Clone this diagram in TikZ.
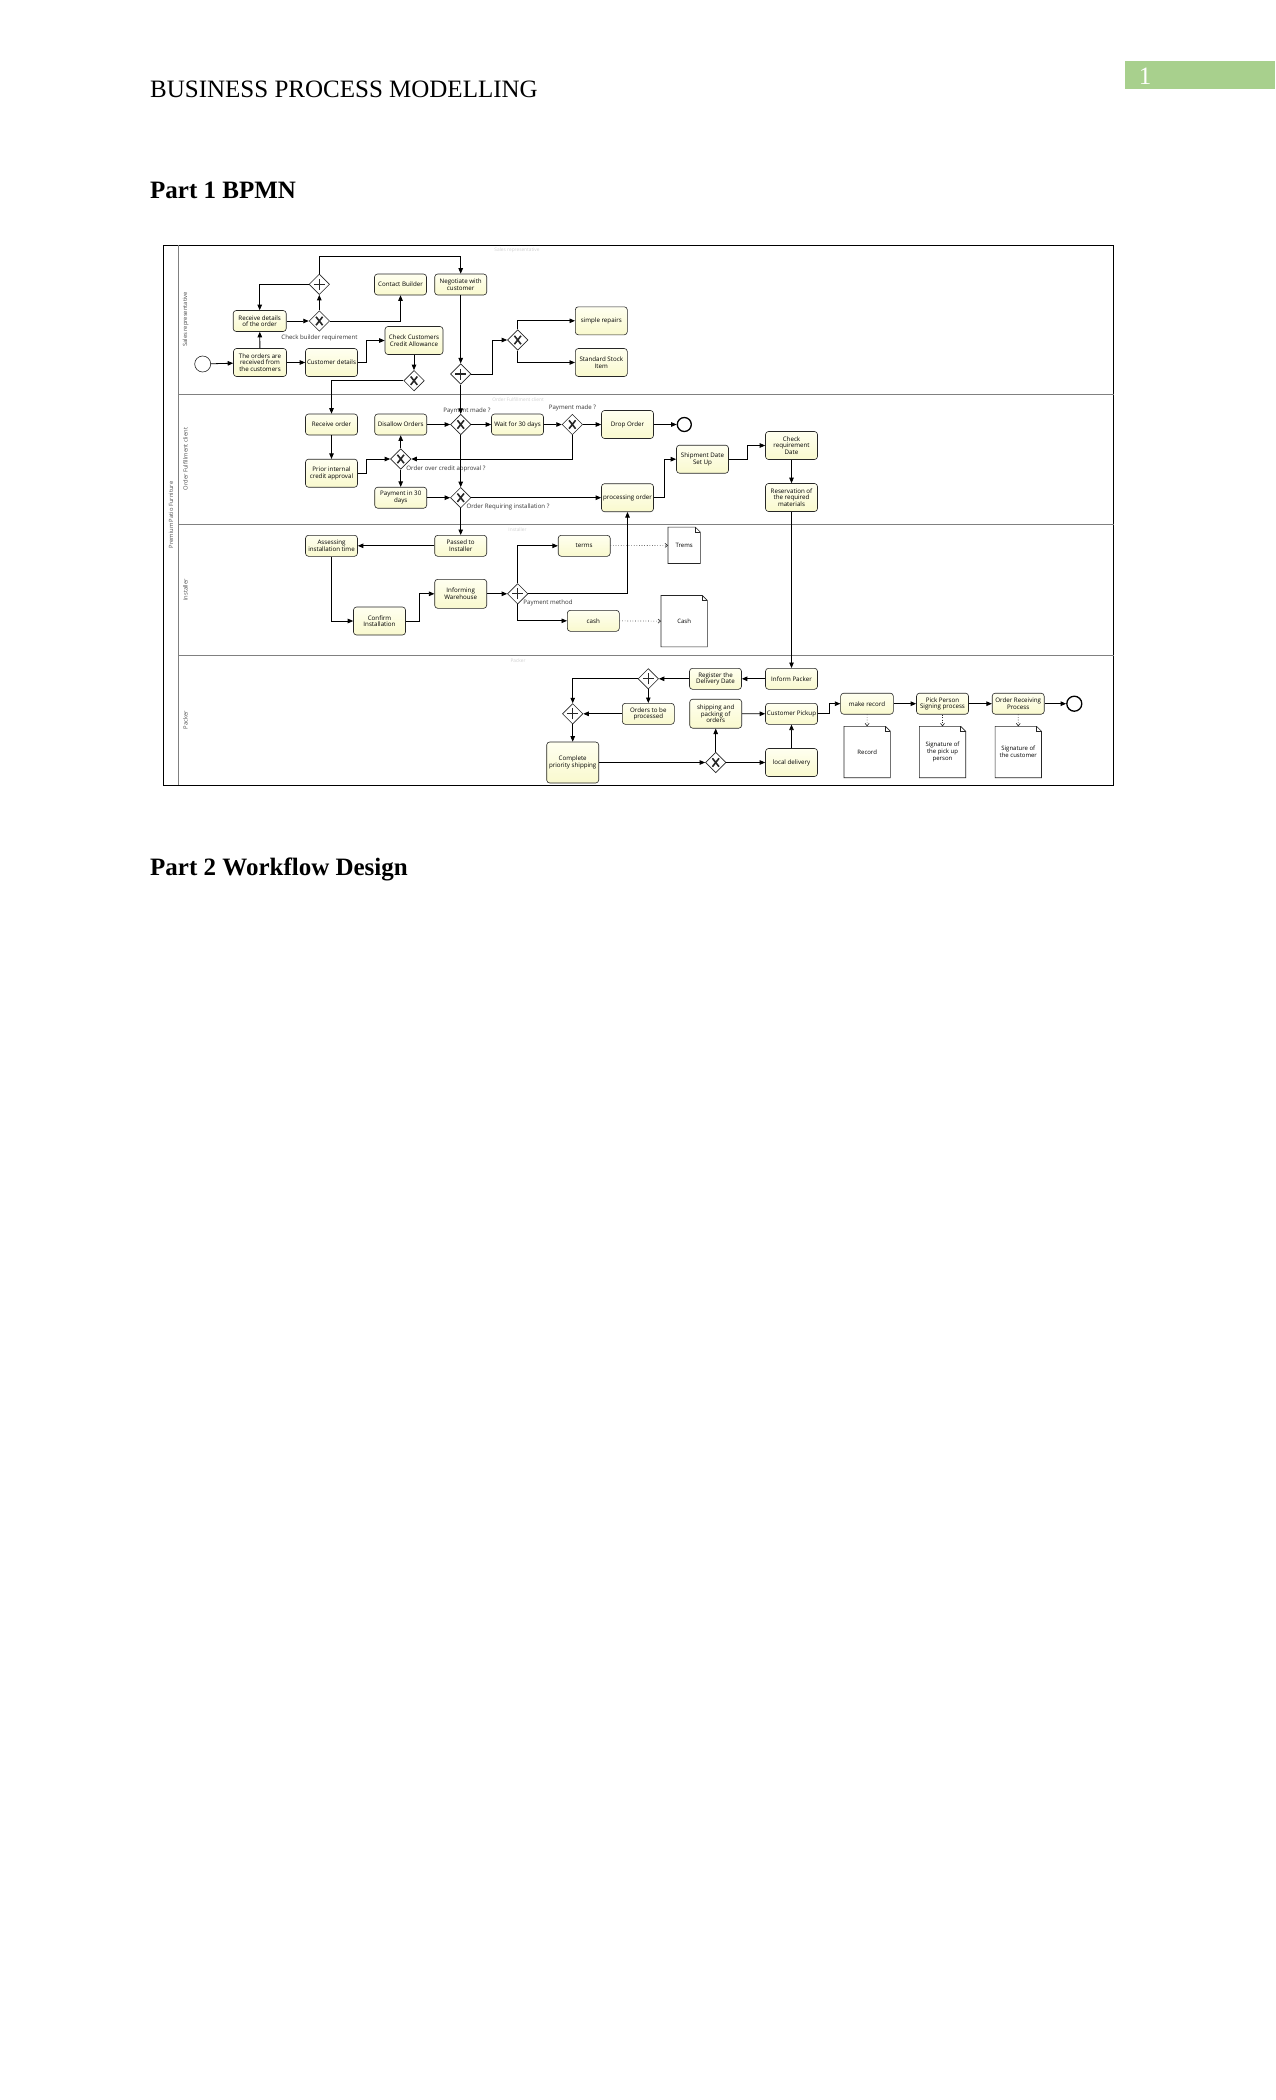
\documentclass[tikz,border=0pt]{standalone}
\usepackage{fontspec}
\setmainfont{Liberation Serif}
\newfontfamily\dfont{Open Sans}
\usetikzlibrary{shapes.geometric,arrows.meta,calc}
\definecolor{taskTop}{RGB}{255,255,240}
\definecolor{taskBot}{RGB}{249,249,206}
\definecolor{pgnum}{RGB}{168,208,141}
\newcommand\docshape[1]{%
  \draw[line width=0.6pt, black!85] (#1.north west) -- ([xshift=-5pt]#1.north east) -- ([yshift=-5pt]#1.north east) -- (#1.south east) -- (#1.south west) -- cycle;
  \draw[line width=0.5pt, black!85] ([xshift=-5pt]#1.north east) |- ([yshift=-5pt]#1.north east);}
\begin{document}
\begin{tikzpicture}[x=1pt,y=-1pt,
  task/.style={draw=black!85, line width=0.6pt, rounded corners=3pt, top color=taskTop, bottom color=taskBot,
    minimum width=52pt, minimum height=21pt, inner sep=0pt, align=center, font=\dfont\fontsize{6.2}{6.6}\selectfont},
  gw/.style={diamond, aspect=1, draw=black!85, line width=0.6pt, fill=white, minimum size=20.5pt, inner sep=0pt},
  xorgw/.style={gw, path picture={\draw[line width=1.6pt]
     ([shift={(-3.3pt,-4.2pt)}]path picture bounding box.center) -- ([shift={(3.3pt,4.2pt)}]path picture bounding box.center)
     ([shift={(-3.3pt,4.2pt)}]path picture bounding box.center) -- ([shift={(3.3pt,-4.2pt)}]path picture bounding box.center);}},
  pargw/.style={gw, path picture={\draw[line width=1.3pt]
     ([xshift=-5.5pt]path picture bounding box.center) -- ([xshift=5.5pt]path picture bounding box.center)
     ([yshift=-5.5pt]path picture bounding box.center) -- ([yshift=5.5pt]path picture bounding box.center);}},
  ev/.style={circle, draw=black!85, line width=0.6pt, fill=white, minimum size=16pt, inner sep=0pt},
  endev/.style={circle, draw=black, line width=1.3pt, fill=white, minimum size=14pt, inner sep=0pt},
  flow/.style={draw=black, line width=0.8pt, -{Triangle[length=5.5pt,width=4.5pt]}},
  assoc/.style={draw=black!85, line width=0.6pt, dotted, -{Straight Barb[length=2.5pt,width=4pt]}},
  docnode/.style={draw=none, minimum width=46pt, minimum height=51pt, inner sep=0pt, align=center, font=\dfont\fontsize{6}{6.6}\selectfont},
  lbl/.style={inner sep=0pt, text=black!80, font=\dfont\fontsize{6.1}{6.5}\selectfont},
  lanelbl/.style={inner sep=0pt, rotate=90, text=black!70, font=\dfont\fontsize{5.8}{6.2}\selectfont},
  faint/.style={inner sep=0pt, text=black!18, font=\dfont\fontsize{4.8}{5}\selectfont},
  lane/.style={draw=black!50, line width=0.6pt}]
\useasboundingbox (0,0) rectangle (1275,2100);
\fill[white] (0,0) rectangle (1275,2100);

% ---------- page text ----------
\node[anchor=base west, inner sep=0pt, font=\fontsize{25}{30}\selectfont] (hdr) at (150,97.7) {BUSINESS PROCESS MODELLING};
\node[anchor=north west, fill=pgnum, minimum width=150pt, minimum height=28.6pt, inner sep=0pt] (pgbox) at (1125,60.7) {};
\node[anchor=base, inner sep=0pt, text=white, font=\fontsize{25}{30}\selectfont] (pgno) at (1145,84.5) {1};
\node[anchor=base west, inner sep=0pt, font=\bfseries\fontsize{25}{30}\selectfont] (part1) at (150,198.3) {Part 1 BPMN};
\node[anchor=base west, inner sep=0pt, font=\bfseries\fontsize{25}{30}\selectfont] (part2) at (150,875.7) {Part 2 Workflow Design};

% ---------- pool and lanes ----------
\draw[line width=0.8pt] (163,245) rectangle (1113.5,785.3);
\draw[lane] (178.5,245) -- (178.5,785.3);
\draw[lane] (178.5,394.3) -- (1113.5,394.3);
\draw[lane] (178.5,524.3) -- (1113.5,524.3);
\draw[lane] (178.5,655.3) -- (1113.5,655.3);
\node[lanelbl] (poolname) at (171,515) {Premium Patio Furniture};
\node[lanelbl] (lane1) at (185.5,319.5) {Sales representative};
\node[lanelbl] (lane2) at (185.5,459) {Order Fulfillment client};
\node[lanelbl] (lane3) at (185.5,590) {Installer};
\node[lanelbl] (lane4) at (185.5,720) {Packer};
\node[faint] (f1) at (517,250.5) {Sales representative};
\node[faint] (f2) at (518,400) {Order Fulfillment client};
\node[faint] (f3) at (517.5,530) {Installer};
\node[faint] (f4) at (518,661) {Packer};

% ---------- Sales representative ----------
\node[ev] (start) at (202.7,364) {};
\node[task, minimum width=53pt, minimum height=28pt] (orders) at (260,362.5) {The orders are\\received from\\the customers};
\node[task, minimum width=53pt] (recv) at (259.7,321) {Receive details\\of the order};
\node[task, minimum height=28pt] (custdet) at (331.5,362.5) {Customer details};
\node[task, minimum width=58pt, minimum height=28pt] (credit) at (414,340.5) {Check Customers\\Credit Allowance};
\node[task] (contact) at (400.5,284.5) {Contact Builder};
\node[task] (negot) at (460.7,284.5) {Negotiate with\\customer};
\node[task, minimum height=28pt] (simple) at (601.3,320.8) {simple repairs};
\node[task, minimum height=28pt] (stock) at (601.3,362.5) {Standard Stock\\Item};
\node[xorgw] (gx1) at (319.3,321) {};
\node[pargw] (gp1) at (319.3,284.3) {};
\node[xorgw] (gx2) at (414,380.7) {};
\node[pargw] (gp2) at (460.7,374) {};
\node[xorgw] (gx3) at (517.7,340) {};
\node[lbl] (lb1) at (319.5,337.7) {Check builder requirement};

% ---------- Order Fulfillment client ----------
\node[task] (recvorder) at (331.5,424.5) {Receive order};
\node[task, minimum height=28pt] (prior) at (331.5,473.2) {Prior internal\\credit approval};
\node[task] (disallow) at (400.7,424.5) {Disallow Orders};
\node[task] (pay30) at (400.7,497.7) {Payment in 30\\days};
\node[task] (wait) at (517.5,424.5) {Wait for 30 days};
\node[task, minimum height=28pt] (drop) at (627.5,424.5) {Drop Order};
\node[endev] (endA) at (684.3,424.5) {};
\node[task, minimum height=28pt] (proc) at (627.5,497.7) {processing order};
\node[task, minimum height=28pt] (ship) at (702.5,459.2) {Shipment Date\\Set Up};
\node[task, minimum height=28pt] (checkreq) at (791.5,445.5) {Check\\requirement\\Date};
\node[task, minimum height=28pt] (reserv) at (791.5,497.5) {Reservation of\\the required\\materials};
\node[xorgw] (gx4) at (460.7,424.5) {};
\node[xorgw] (gx5) at (400.7,459) {};
\node[xorgw] (gx6) at (572.3,424.5) {};
\node[xorgw] (gx7) at (460.7,497.7) {};
\node[lbl] (lb2) at (467,410.7) {Payment made ?};
\node[lbl] (lb3) at (572.5,408.3) {Payment made ?};
\node[lbl] (lb4) at (446,469) {Order over credit approval ?};
\node[lbl] (lb5) at (508,507) {Order Requiring installation ?};

% ---------- Installer ----------
\node[task] (passed) at (460.7,545.8) {Passed to\\Installer};
\node[task] (assess) at (331.5,545.8) {Assessing\\installation time};
\node[task, minimum height=28pt] (confirm) at (379.5,621) {Confirm\\Installation};
\node[task, minimum height=29pt] (informwh) at (460.7,593.8) {Informing\\Warehouse};
\node[task] (terms) at (584.2,545.8) {terms};
\node[task] (cash) at (593.3,620.8) {cash};
\node[pargw] (gp3) at (517.7,593.8) {};
\node[lbl] (lb6) at (548,603.3) {Payment method};
\node[docnode, minimum width=32pt, minimum height=36pt] (dtrems) at (684.2,545.3) {Trems};
\node[docnode] (dcash) at (684.2,621.2) {Cash};
\docshape{dtrems}
\docshape{dcash}

% ---------- Packer ----------
\node[task] (informpk) at (791.5,678.8) {Inform Packer};
\node[task] (register) at (715.5,678.8) {Register the\\Delivery Date};
\node[task] (ordproc) at (648.3,713.8) {Orders to be\\processed};
\node[task, minimum height=41pt] (complete) at (572.7,762.5) {Complete\\priority shipping};
\node[task, minimum height=29pt] (shippack) at (715.7,713.7) {shipping and\\packing of\\orders};
\node[task] (pickup) at (791.5,713.8) {Customer Pickup};
\node[task, minimum height=28pt] (local) at (791.5,762.5) {local delivery};
\node[task, minimum width=52.7pt] (record) at (867,703.7) {make record};
\node[task] (pick) at (942.5,703.7) {Pick Person\\Signing process};
\node[task] (orecv) at (1018.2,703.7) {Order Receiving\\Process};
\node[endev, minimum size=15pt] (endB) at (1074.3,703.7) {};
\node[pargw] (gp4) at (648.3,678.8) {};
\node[pargw] (gp5) at (572.7,713.8) {};
\node[xorgw] (gx8) at (715.7,762.5) {};
\node[docnode] (drecord) at (867.2,752) {Record};
\node[docnode] (dsig1) at (942.5,752) {Signature of\\the pick up\\person};
\node[docnode] (dsig2) at (1018.3,752) {Signature of\\the customer};
\docshape{drecord}
\docshape{dsig1}
\docshape{dsig2}

% ---------- flows: sales ----------
\draw[flow] (start) -- (orders);
\draw[flow] (orders) -- (recv);
\draw[flow] (orders) -- (custdet);
\draw[flow] (custdet.east) -- ++(8.4,0) |- (credit.west);
\draw[flow] (credit) -- (gx2);
\draw[flow] (gx2.west) -| (recvorder.north);
\draw[flow] (recv) -- (gx1);
\draw[flow] (gx1) -- (gp1);
\draw[flow] (gx1.east) -| (contact.south);
\draw[flow] (gp1.west) -| (recv.north);
\draw[flow] (gp1.north) -- ++(0,-17) -| (negot.north);
\draw[flow] (negot) -- (gp2);
\draw[flow] (gp2) -- (gx4);
\draw[flow] (gp2.east) -- ++(21,0) |- (gx3.west);
\draw[flow] (gx3.north) |- (simple.west);
\draw[flow] (gx3.south) |- (stock.west);

% ---------- flows: order fulfillment ----------
\draw[flow] (recvorder) -- (prior);
\draw[flow] (prior.east) -- ++(8.4,0) |- (gx5.west);
\draw[flow] (gx5) -- (disallow);
\draw[flow] (gx5) -- (pay30);
\draw[flow] (disallow) -- (gx4);
\draw[flow] (gx4) -- (wait);
\draw[flow] (wait) -- (gx6);
\draw[flow] (gx6) -- (drop);
\draw[flow] (drop) -- (endA);
\draw[flow] (gx6.south) |- (gx5.east);
\draw[flow] (gx4) -- (gx7);
\draw[flow] (pay30) -- (gx7);
\draw[flow] (gx7) -- (proc);
\draw[flow] (gx7) -- (passed);
\draw[flow] (proc.east) -- ++(11,0) |- (ship.west);
\draw[flow] (ship.east) -- ++(19,0) |- (checkreq.west);
\draw[flow] (checkreq) -- (reserv);
\draw[flow] (reserv) -- (informpk);

% ---------- flows: installer ----------
\draw[flow] (passed) -- (assess);
\draw[flow] (assess.south) |- (confirm.west);
\draw[flow] (confirm.east) -- ++(13.8,0) |- (informwh.west);
\draw[flow] (informwh) -- (gp3);
\draw[flow] (gp3.north) |- (terms.west);
\draw[flow] (gp3.east) -| (proc.south);
\draw[flow] (gp3.south) |- (cash.west);
\draw[assoc] (terms) -- (dtrems);
\draw[assoc] (cash) -- (dcash);

% ---------- flows: packer ----------
\draw[flow] (informpk) -- (register);
\draw[flow] (register) -- (gp4);
\draw[flow] (gp4) -- (ordproc);
\draw[flow] (gp4.west) -| (gp5.north);
\draw[flow] (ordproc) -- (gp5);
\draw[flow] (gp5) -- (complete);
\draw[flow] (complete) -- (gx8);
\draw[flow] (gx8) -- (shippack);
\draw[flow] (gx8) -- (local);
\draw[flow] (shippack) -- (pickup);
\draw[flow] (local) -- (pickup);
\draw[flow] (pickup.east) -- ++(12,0) |- (record.west);
\draw[flow] (record) -- (pick);
\draw[flow] (pick) -- (orecv);
\draw[flow] (orecv) -- (endB);
\draw[assoc] (record) -- (drecord);
\draw[assoc] (pick) -- (dsig1);
\draw[assoc] (orecv) -- (dsig2);
\end{tikzpicture}
\end{document}
